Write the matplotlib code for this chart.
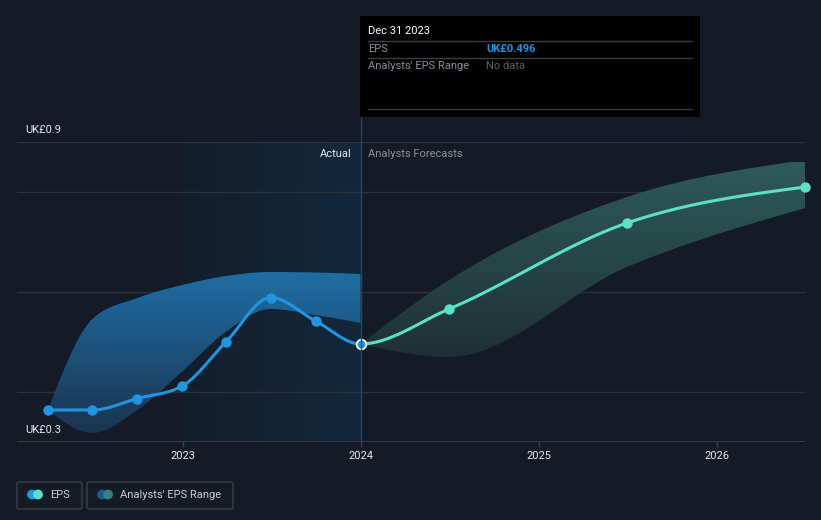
import numpy as np
import pandas as pd
import matplotlib
matplotlib.use("Agg")
from matplotlib import pyplot as plt
from matplotlib.patches import Rectangle, FancyBboxPatch, Circle

plt.rcParams['font.family'] = ['Roboto', 'DejaVu Sans']

# EPS actual (quarterly, trailing)
actual_dates = ['2022-03-31', '2022-06-30', '2022-09-30', '2022-12-31',
                '2023-03-31', '2023-06-30', '2023-09-30', '2023-12-31']
actual_eps = [0.364, 0.364, 0.387, 0.412, 0.501, 0.589, 0.542, 0.496]
actual_low = [0.364, 0.318, 0.364, 0.441, 0.521, 0.566, 0.554, 0.538]
actual_high = [0.364, 0.546, 0.588, 0.614, 0.632, 0.640, 0.639, 0.636]

# analyst forecasts
fc_dates = ['2023-12-31', '2024-06-30', '2025-06-30', '2026-06-30']
fc_eps = [0.496, 0.566, 0.738, 0.810]
fc_low = [0.496, 0.470, 0.650, 0.768]
fc_high = [0.496, 0.624, 0.790, 0.864]

year_ticks = [2023, 2024, 2025, 2026]
y_labels = ['UK£0.9', 'UK£0.3']

BG = '#151b26'
BLUE = '#2394df'
MINT = '#5ce0c8'
FS = 8


def dec_year(s):
    t = pd.Timestamp(s)
    start = pd.Timestamp(year=t.year, month=1, day=1)
    end = pd.Timestamp(year=t.year + 1, month=1, day=1)
    return t.year + (t - start) / (end - start)


def monotone(x, y, n=40):
    # monotone cubic, same rule as d3 curveMonotoneX
    x = np.asarray(x, float)
    y = np.asarray(y, float)
    h = np.diff(x)
    s = np.diff(y) / h
    m = np.zeros(len(x))
    for i in range(1, len(x) - 1):
        p = (s[i - 1] * h[i] + s[i] * h[i - 1]) / (h[i - 1] + h[i])
        m[i] = (np.sign(s[i - 1]) + np.sign(s[i])) * min(abs(s[i - 1]), abs(s[i]), 0.5 * abs(p))
    m[0] = (3 * s[0] - m[1]) / 2
    m[-1] = (3 * s[-1] - m[-2]) / 2
    xs, ys = [], []
    for i in range(len(x) - 1):
        t = np.linspace(0, 1, n)
        h00 = 2 * t**3 - 3 * t**2 + 1
        h10 = t**3 - 2 * t**2 + t
        h01 = -2 * t**3 + 3 * t**2
        h11 = t**3 - t**2
        xs.append(x[i] + t * h[i])
        ys.append(h00 * y[i] + h10 * h[i] * m[i] + h01 * y[i + 1] + h11 * h[i] * m[i + 1])
    return np.concatenate(xs), np.concatenate(ys)


def grad_fill(ax, x, lo, hi, c_top, c_bot, ytop, ybot):
    poly = ax.fill_between(x, lo, hi, color='none', lw=0)
    path = poly.get_paths()[0]
    cmap = matplotlib.colors.LinearSegmentedColormap.from_list('g', [c_bot, c_top])
    grad = np.linspace(0, 1, 256).reshape(-1, 1)
    im = ax.imshow(grad, cmap=cmap, origin='lower', aspect='auto', interpolation='bilinear',
                   extent=[x.min(), x.max(), ybot, ytop], zorder=2)
    im.set_clip_path(path, transform=ax.transData)


ax_x = [dec_year(d) for d in actual_dates]
fx_x = [dec_year(d) for d in fc_dates]

fig = plt.figure(figsize=(8.21, 5.2), dpi=100, facecolor=BG)
W, H = 821, 520
x0px, x1px = 17, 805
ax = fig.add_axes([x0px / W, (H - 442) / H, (x1px - x0px) / W, 300 / H])
ax.set_facecolor(BG)
px_per_year = 178.2
xmin = 2024 - (361 - x0px) / px_per_year
xmax = 2024 + (x1px - 361) / px_per_year
ax.set_xlim(xmin, xmax)
ax.set_ylim(0.3, 0.9)
for sp in ax.spines.values():
    sp.set_visible(False)
ax.set_xticks([])
ax.set_yticks([])

# past-year highlight
hl = matplotlib.colors.LinearSegmentedColormap.from_list('hl', ['#141e2c', '#13283d'])
ax.imshow(np.linspace(0, 1, 512).reshape(1, -1), cmap=hl, aspect='auto',
          interpolation='bilinear', extent=[2023, 2024, 0.3, 0.9], zorder=0)

# gridlines
for v in [0.4, 0.6, 0.8, 0.9]:
    ax.axhline(v, color='#2c323d', lw=1, zorder=1)
ax.axhline(0.3, color='#3a3f4a', lw=1.2, zorder=6)

# bands
bx, blo = monotone(ax_x, actual_low)
_, bhi = monotone(ax_x, actual_high)
grad_fill(ax, bx, blo, bhi, '#1f6ea4', '#1a324e', 0.64, 0.31)
fxx, flo = monotone(fx_x, fc_low)
_, fhi = monotone(fx_x, fc_high)
grad_fill(ax, fxx, flo, fhi, '#2e5a5a', '#1f3034', 0.86, 0.47)

# one continuous EPS curve, coloured by actual / forecast
all_x = ax_x + fx_x[1:]
all_y = actual_eps + fc_eps[1:]
cx, cy = monotone(all_x, all_y)
past = cx <= 2024.0
ax.plot(cx[past], cy[past], color=BLUE, lw=2.2, zorder=4, solid_capstyle='round')
ax.plot(cx[~past], cy[~past], color=MINT, lw=2.2, zorder=4, solid_capstyle='round')
ax.plot(ax_x[:-1], actual_eps[:-1], 'o', color=BLUE, ms=6.5, zorder=5)
ax.plot(fx_x[1:], fc_eps[1:], 'o', color=MINT, ms=6.5, zorder=5, clip_on=False)
ax.plot(ax_x[-1], actual_eps[-1], 'o', color=BLUE, ms=7, mec='white', mew=1.2, zorder=7)

# overlay in pixel coordinates
ov = fig.add_axes([0, 0, 1, 1], zorder=10)
ov.set_xlim(0, W)
ov.set_ylim(H, 0)
ov.axis('off')
ov.patch.set_alpha(0)

ov.plot([361, 361], [117, 442], color='#1f4668', lw=1, zorder=1)

# axis labels
ov.text(25, 130, y_labels[0], color='#e6e8eb', fontsize=FS, va='center')
ov.text(25, 430, y_labels[1], color='#e6e8eb', fontsize=FS, va='center')
for yr in year_ticks:
    xp = 361 + (yr - 2024) * px_per_year
    ov.plot([xp, xp], [442, 446], color='#3a3f4a', lw=1)
    ov.text(xp, 456, str(yr), color='#e6e8eb', fontsize=FS, ha='center', va='center')

ov.text(352, 154, 'Actual', color='#e6e8eb', fontsize=FS, ha='right', va='center')
ov.text(368, 154, 'Analysts Forecasts', color='#8a8f98', fontsize=FS, ha='left', va='center')

# tooltip
ov.add_patch(Rectangle((360, 16), 340, 101, facecolor='black', edgecolor='none', zorder=3))
for yl in [41, 58, 109]:
    ov.plot([368, 692], [yl, yl], color='#3a3d42', lw=1, zorder=4)
ov.text(368, 31, 'Dec 31 2023', color='white', fontsize=FS, va='center', zorder=5)
ov.text(368, 49, 'EPS', color='#8a8f98', fontsize=FS, va='center', zorder=5)
ov.text(486, 49, 'UK£0.496', color=BLUE, fontsize=FS, va='center', weight='bold', zorder=5)
ov.text(368, 66, "Analysts' EPS Range", color='#8a8f98', fontsize=FS, va='center', zorder=5)
ov.text(486, 66, 'No data', color='#5c6068', fontsize=FS, va='center', zorder=5)

# legend
for (bx0, bw) in [(17, 65), (87, 146)]:
    ov.add_patch(FancyBboxPatch((bx0, 482), bw, 27, boxstyle='round,pad=0,rounding_size=2',
                                facecolor=BG, edgecolor='#3b404b', lw=1))
ov.add_patch(Circle((32, 494.5), 4.2, color=BLUE))
ov.add_patch(Circle((38, 494.5), 4.2, color=MINT))
ov.text(50, 494.5, 'EPS', color='#c9ccd1', fontsize=FS, va='center')
ov.add_patch(Circle((102, 494.5), 4.2, color='#1e5a88'))
ov.add_patch(Circle((108, 494.5), 4.2, color='#3a7f7a'))
ov.text(120, 494.5, "Analysts' EPS Range", color='#c9ccd1', fontsize=FS, va='center')

fig.savefig('out.png', dpi=100, facecolor=BG)
